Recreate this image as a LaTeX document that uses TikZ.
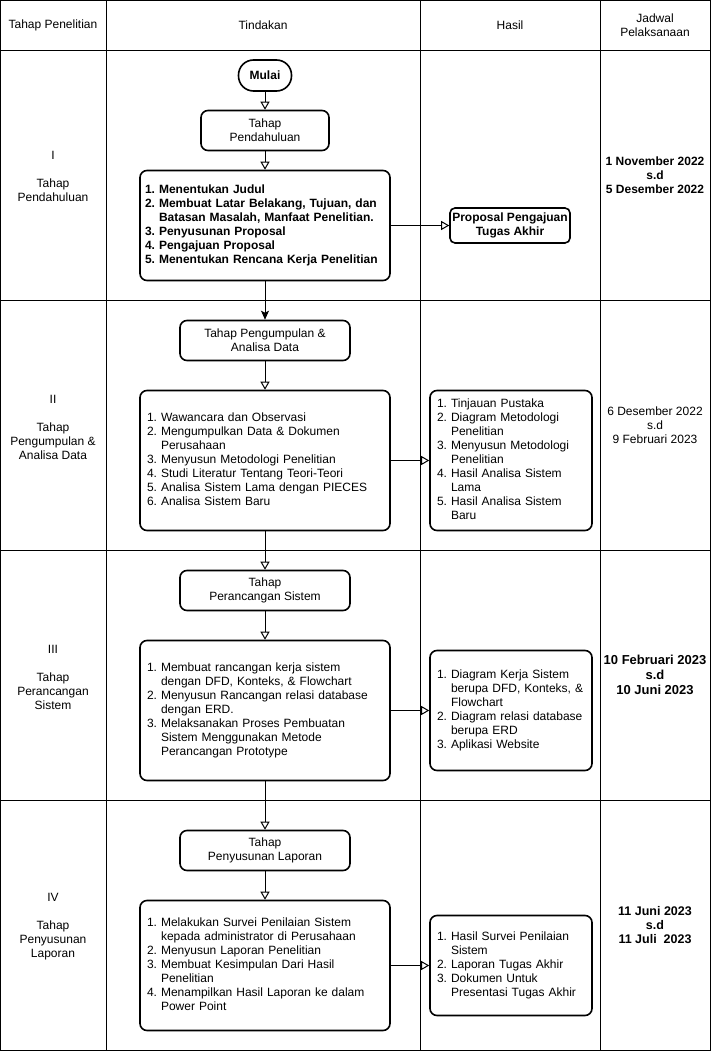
\documentclass[tikz,border=0pt]{standalone}
\usepackage{fontspec}
\setmainfont{Liberation Sans}
\usetikzlibrary{arrows.meta}
% numbered list with hanging indent, set as a two-column tabular
\newcommand\steplist[1]{\begin{tabular}{@{}l@{\ }l@{}}#1\end{tabular}}
\begin{document}
\begin{tikzpicture}[x=1pt,y=-1pt,
  every node/.style={font=\fontsize{12pt}{14pt}\selectfont, inner sep=0pt, text=black},
  grid/.style={line width=1pt},
  box/.style={draw, line width=1.6pt, rounded corners=7pt, align=center},
  stage/.style={box, minimum width=170pt, minimum height=40pt},
  task/.style={box, align=left, inner xsep=7pt, text width=236pt},
  result/.style={box, align=left, inner xsep=7pt, text width=148pt},
  lbl/.style={align=center},
  flow/.style={line width=1pt, -{Triangle[open, length=8pt, width=9pt]}},
  flowfill/.style={line width=1pt, -{Stealth[length=9pt, width=8pt, inset=2pt]}}
]
% page and table grid
\fill[white] (0,0) rectangle (711,1051);
\useasboundingbox (0,0) rectangle (711,1051);
\draw[grid] (0.5,0.5) rectangle (710.5,1050.5);
\foreach \x in {106.5,420.5,600.5} \draw[grid] (\x,0.5) -- (\x,1050.5);
\foreach \y in {50.5,300.5,550.5,800.5} \draw[grid] (0.5,\y) -- (710.5,\y);

% header row
\node[lbl] (h-tahap) at (53,25) {Tahap Penelitian};
\node[lbl] (h-tindakan) at (263,25) {Tindakan};
\node[lbl] (h-hasil) at (510,25) {Hasil};
\node[lbl] (h-jadwal) at (655,25) {Jadwal\\Pelaksanaan};

% stage labels
\node[lbl] (s1) at (53,176) {I\\[14pt]Tahap\\Pendahuluan};
\node[lbl] (s2) at (53,427) {II\\[14pt]Tahap\\Pengumpulan \&\\Analisa Data};
\node[lbl] (s3) at (53,677) {III\\[14pt]Tahap\\Perancangan\\Sistem};
\node[lbl] (s4) at (53,927) {IV\\[14pt]Tahap\\Penyusunan\\Laporan};

% schedule
\node[lbl, font=\fontsize{12pt}{14pt}\selectfont\bfseries] (d1) at (655,175) {1 November 2022\\s.d\\5 Desember 2022};
\node[lbl] (d2) at (655,425) {6 Desember 2022\\s.d\\9 Februari 2023};
\node[lbl, font=\fontsize{13pt}{15pt}\selectfont\bfseries] (d3) at (655,675) {10 Februari 2023\\s.d\\10 Juni 2023};
\node[lbl, font=\fontsize{12.5pt}{14pt}\selectfont\bfseries] (d4) at (655,925) {11 Juni 2023\\s.d\\11 Juli \ 2023};

% stage I
\node[box, font=\fontsize{12pt}{14pt}\selectfont\bfseries, minimum width=53pt, minimum height=31pt, rounded corners=15pt] (mulai) at (265,75.5) {Mulai};
\node[box, minimum width=128pt, minimum height=40pt] (t1) at (265,130.5) {Tahap\\Pendahuluan};
\node[task, minimum height=110pt, inner xsep=5pt, text width=240pt, font=\fontsize{12pt}{14pt}\selectfont\bfseries] (b1) at (265,225.5) {\steplist{
1.& Menentukan Judul\\
2.& Membuat Latar Belakang, Tujuan, dan\\
  & Batasan Masalah, Manfaat Penelitian.\\
3.& Penyusunan Proposal\\
4.& Pengajuan Proposal\\
5.& Menentukan Rencana Kerja Penelitian}};
\node[box, minimum width=120pt, minimum height=35pt, rounded corners=5pt, font=\fontsize{12pt}{14pt}\selectfont\bfseries] (p1) at (510,225.5) {Proposal Pengajuan\\Tugas Akhir};

% stage II
\node[stage] (t2) at (265,340.5) {Tahap Pengumpulan \&\\Analisa Data};
\node[task, minimum height=140pt] (b2) at (265,460.5) {\steplist{
1.& Wawancara dan Observasi\\
2.& Mengumpulkan Data \& Dokumen\\
  & Perusahaan\\
3.& Menyusun Metodologi Penelitian\\
4.& Studi Literatur Tentang Teori-Teori\\
5.& Analisa Sistem Lama dengan PIECES\\
6.& Analisa Sistem Baru}};
\node[result, minimum height=140pt] (r2) at (511,460.5) {\steplist{
1.& Tinjauan Pustaka\\
2.& Diagram Metodologi\\
  & Penelitian\\
3.& Menyusun Metodologi\\
  & Penelitian\\
4.& Hasil Analisa Sistem\\
  & Lama\\
5.& Hasil Analisa Sistem\\
  & Baru}};

% stage III
\node[stage] (t3) at (265,590.5) {Tahap\\Perancangan Sistem};
\node[task, minimum height=140pt] (b3) at (265,710.5) {\steplist{
1.& Membuat rancangan kerja sistem\\
  & dengan DFD, Konteks, \& Flowchart\\
2.& Menyusun Rancangan relasi database\\
  & dengan ERD.\\
3.& Melaksanakan Proses Pembuatan\\
  & Sistem Menggunakan Metode\\
  & Perancangan Prototype}};
\node[result, minimum height=120pt] (r3) at (511,710.5) {\steplist{
1.& Diagram Kerja Sistem\\
  & berupa DFD, Konteks, \&\\
  & Flowchart\\
2.& Diagram relasi database\\
  & berupa ERD\\
3.& Aplikasi Website}};

% stage IV
\node[stage] (t4) at (265,850.5) {Tahap\\Penyusunan Laporan};
\node[task, minimum height=130pt] (b4) at (265,965.5) {\steplist{
1.& Melakukan Survei Penilaian Sistem\\
  & kepada administrator di Perusahaan\\
2.& Menyusun Laporan Penelitian\\
3.& Membuat Kesimpulan Dari Hasil\\
  & Penelitian\\
4.& Menampilkan Hasil Laporan ke dalam\\
  & Power Point}};
\node[result, minimum height=100pt] (r4) at (511,965.5) {\steplist{
1.& Hasil Survei Penilaian\\
  & Sistem\\
2.& Laporan Tugas Akhir\\
3.& Dokumen Untuk\\
  & Presentasi Tugas Akhir}};

% connectors
\draw[flow] (mulai) -- (t1);
\draw[flow] (t1) -- (b1);
\draw[flow] (b1) -- (p1);
\draw[flowfill] (b1) -- (t2);
\draw[flow] (t2) -- (b2);
\draw[flow] (b2) -- (r2);
\draw[flow] (b2) -- (t3);
\draw[flow] (t3) -- (b3);
\draw[flow] (b3) -- (r3);
\draw[flow] (b3) -- (t4);
\draw[flow] (t4) -- (b4);
\draw[flow] (b4) -- (r4);
\end{tikzpicture}
\end{document}
